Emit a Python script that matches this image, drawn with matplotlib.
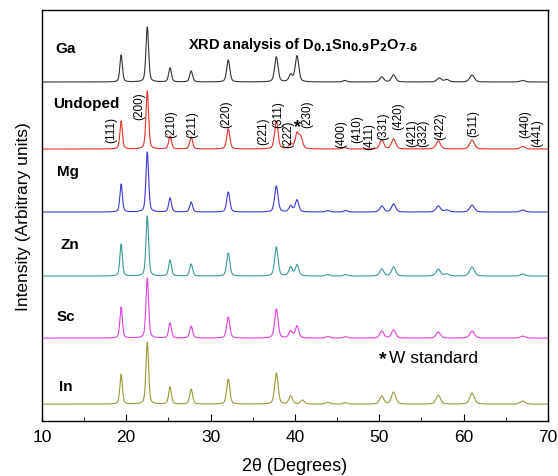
import numpy as np
import matplotlib
matplotlib.use("Agg")
import matplotlib.pyplot as plt

plt.rcParams['font.family'] = ['Liberation Sans', 'DejaVu Sans']

# samples, top to bottom
samples = ["Ga", "Undoped", "Mg", "Zn", "Sc", "In"]
colors = ["#333333", "#e8302a", "#3a3ad8", "#3a9a96", "#e040e0", "#9a9a38"]
offsets = [339, 272, 209, 145, 83, 17]

# peak positions (2theta) and heights
peaks = {
    "Ga": ([19.4, 22.5, 25.2, 27.7, 32.1, 37.8, 39.5, 40.25, 45.9, 50.3, 51.7, 57.1, 58.0, 61.0, 67.0],
           [27, 55, 14, 11, 22, 25, 7, 26, 1.5, 5, 7, 4, 2.5, 7, 1.5]),
    "Undoped": ([19.4, 22.5, 25.2, 27.7, 32.1, 37.8, 39.5, 40.25, 40.7, 45.9, 50.3, 51.7, 57.0, 61.0, 67.0],
                [28, 58, 13, 12, 20, 28, 5, 15, 11, 1.5, 9, 10, 8, 9, 2.5]),
    "Mg": ([19.4, 22.5, 25.2, 27.7, 32.1, 37.8, 39.5, 40.25, 43.9, 46.0, 50.3, 51.7, 57.0, 58.0, 61.0, 67.0],
           [28, 60, 14, 10, 20, 26, 6, 12, 1.5, 1.5, 6, 8, 6, 2, 7, 2]),
    "Zn": ([19.4, 22.5, 25.2, 27.7, 32.1, 37.8, 39.5, 40.25, 43.9, 46.0, 50.3, 51.7, 57.0, 58.0, 61.0, 67.0],
           [32, 60, 16, 12, 23, 29, 9, 11, 1.5, 1.5, 7, 9, 7, 2, 9, 2]),
    "Sc": ([19.4, 22.5, 25.2, 27.7, 32.1, 37.8, 39.5, 40.25, 43.9, 46.0, 50.3, 51.7, 57.0, 61.0, 67.0],
           [31, 60, 15, 12, 21, 29, 7, 12, 1.5, 1.5, 7, 8, 6, 7, 2]),
    "In": ([19.4, 22.5, 25.2, 27.7, 32.1, 37.8, 39.5, 40.9, 43.9, 46.0, 50.3, 51.7, 57.0, 61.0, 67.0],
           [30, 62, 17, 15, 25, 31, 8, 4, 2, 1.5, 8, 12, 9, 11, 3]),
}

# Miller indices on the undoped pattern
hkl = ["(111)", "(200)", "(210)", "(211)", "(220)", "(221)", "(311)", "(222)", "(230)",
       "(400)", "(410)", "(411)", "(331)", "(420)", "(421)", "(332)", "(422)", "(511)",
       "(440)", "(441)"]
hkl_x = [18.2, 21.5, 25.3, 27.8, 31.9, 36.2, 38.0, 39.2, 41.5,
         45.5, 47.35, 48.8, 50.45, 52.2, 53.9, 55.2, 57.2, 61.2, 67.3, 68.7]
hkl_y = [279, 302, 284, 284, 294, 277, 294, 274, 294,
         274, 279, 272, 282, 292, 275, 275, 282, 285, 284, 275]

x = np.linspace(10, 70, 3000)


def pattern(pos, hts):
    y = np.zeros_like(x)
    for p, h in zip(pos, hts):
        w = 0.12 + 0.003 * (p - 10)
        y += h * (0.6 * np.exp(-0.5 * ((x - p) / w) ** 2) + 0.4 / (1 + ((x - p) / (1.2 * w)) ** 2))
    return y


fig = plt.figure(figsize=(5.58, 4.77), dpi=100)
ax = fig.add_axes([0.075, 0.115, 0.907, 0.862])

label_pos = [(11.6, 373), (11.3, 318), (11.8, 250), (12.2, 177), (11.8, 105), (12.0, 35)]
for name, col, off, lp in zip(samples, colors, offsets, label_pos):
    pos, hts = peaks[name]
    ax.plot(x, pattern(pos, hts) + off, color=col, lw=0.8)
    ax.text(lp[0], lp[1], name, fontsize=11, fontweight='bold', ha='left', va='center')

for t, hx, hy in zip(hkl, hkl_x, hkl_y):
    ax.text(hx, hy, t, rotation=90, fontsize=8.5, ha='center', va='bottom')
ax.text(40.25, 294, "*", fontsize=13, fontweight='bold', ha='center', va='center')

ax.text(41.0, 377, r"XRD analysis of D$_{\mathbf{0.1}}$Sn$_{\mathbf{0.9}}$P$_{\mathbf{2}}$O$_{\mathbf{7\text{-}\delta}}$",
        fontsize=10.5, fontweight='bold', ha='center', va='center')
ax.text(50.9, 63, "*", fontsize=14, fontweight='bold', ha='right', va='center')
ax.text(51.1, 64, "W standard", fontsize=12.5, ha='left', va='center')

ax.set_xlim(10, 70)
ax.set_ylim(0, 411)
ax.set_xticks([10, 20, 30, 40, 50, 60, 70])
ax.set_xticks([15, 25, 35, 45, 55, 65], minor=True)
ax.tick_params(axis='x', which='both', direction='in', labelsize=12.5, pad=6)
ax.tick_params(axis='x', which='major', length=5)
ax.tick_params(axis='x', which='minor', length=3)
ax.set_yticks([])
ax.set_xlabel("2\u03b8 (Degrees)", fontsize=13, labelpad=9)
ax.set_ylabel("Intensity (Arbitrary units)", fontsize=12.5, labelpad=8)
for s in ax.spines.values():
    s.set_linewidth(1.0)

fig.savefig("out.png", dpi=100)
